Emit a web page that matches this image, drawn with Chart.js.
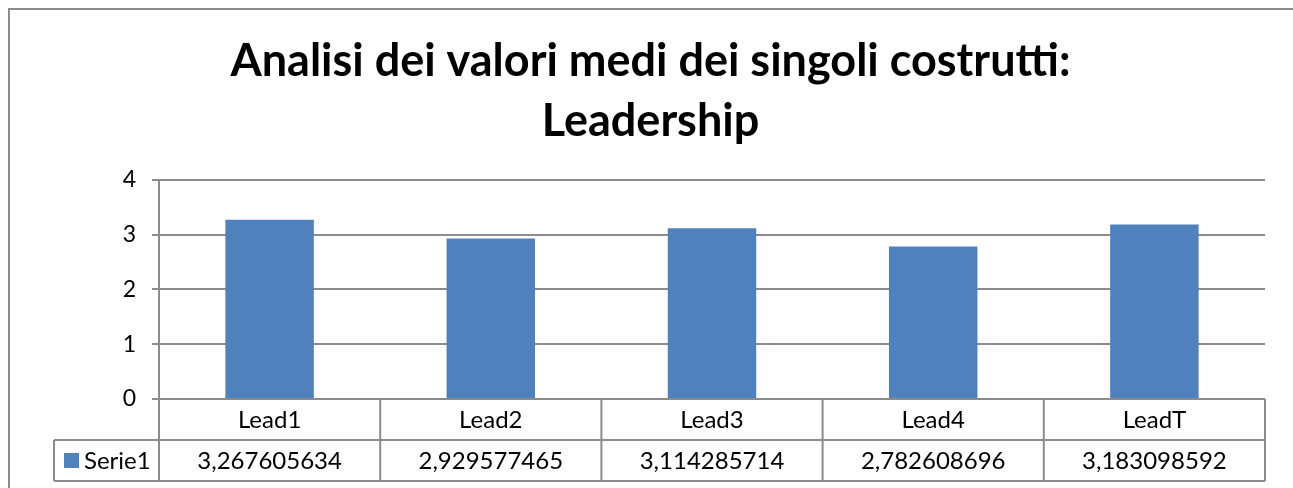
<!DOCTYPE html>
<html>
<head>
<meta charset="utf-8">
<script src="https://cdn.jsdelivr.net/npm/chart.js@4/dist/chart.umd.min.js"></script>
<style>
  html, body { margin: 0; padding: 0; background: #fff; }
  #wrap { position: relative; width: 1293px; height: 488px; }
</style>
</head>
<body>
<div id="wrap"><canvas id="myChart" width="1293" height="488"></canvas></div>
<script>
// dati
const categories = ['Lead1', 'Lead2', 'Lead3', 'Lead4', 'LeadT'];
const seriesName = 'Serie1';
const values = [3.267605634, 2.929577465, 3.114285714, 2.782608696, 3.183098592];
const valueLabels = ['3,267605634', '2,929577465', '3,114285714', '2,782608696', '3,183098592'];
const titleLines = ['Analisi dei valori medi dei singoli costrutti:', 'Leadership'];

const barColor = '#4F81BD';
const lineColor = '#8c8c8c';
const fontFamily = 'Lato, "Open Sans", sans-serif';

// tabella dati sotto l'asse, disegnata dalle posizioni della scala x
const dataTable = {
    id: 'dataTable',
    beforeDraw(chart) {
        const ctx = chart.ctx;
        ctx.save();
        ctx.strokeStyle = lineColor;
        ctx.lineWidth = 2;
        ctx.strokeRect(9, 9, 1300, 500);
        ctx.restore();
    },
    afterDraw(chart) {
        const ctx = chart.ctx;
        const x = chart.scales.x;
        const area = chart.chartArea;
        const rowH = 41;
        const top = area.bottom;
        const mid = top + rowH;
        const bottom = mid + rowH;
        const half = (x.getPixelForValue(1) - x.getPixelForValue(0)) / 2;
        const legendLeft = 54;

        ctx.save();
        ctx.strokeStyle = lineColor;
        ctx.lineWidth = 2;
        ctx.beginPath();
        // righe orizzontali
        ctx.moveTo(area.left, top); ctx.lineTo(area.right, top);
        ctx.moveTo(legendLeft, mid); ctx.lineTo(area.right, mid);
        ctx.moveTo(legendLeft, bottom); ctx.lineTo(area.right, bottom);
        // righe verticali
        ctx.moveTo(legendLeft, mid); ctx.lineTo(legendLeft, bottom);
        categories.forEach((c, i) => {
            const xl = x.getPixelForValue(i) - half;
            ctx.moveTo(xl, top); ctx.lineTo(xl, bottom);
        });
        ctx.moveTo(area.right, top); ctx.lineTo(area.right, bottom);
        ctx.stroke();

        ctx.fillStyle = '#000';
        ctx.font = '24px ' + fontFamily;
        ctx.textAlign = 'center';
        ctx.textBaseline = 'middle';
        categories.forEach((c, i) => {
            const cx = x.getPixelForValue(i);
            ctx.fillText(c, cx, top + rowH / 2 + 1);
            ctx.fillText(valueLabels[i], cx, mid + rowH / 2 + 1);
        });

        // chiave legenda
        ctx.fillStyle = barColor;
        ctx.fillRect(64, mid + 13, 15, 15);
        ctx.fillStyle = '#000';
        ctx.textAlign = 'left';
        ctx.fillText(seriesName, 84, mid + rowH / 2 + 1);
        ctx.restore();
    }
};

const ctx = document.getElementById('myChart').getContext('2d');
const myChart = new Chart(ctx, {
    type: 'bar',
    data: {
        labels: categories,
        datasets: [{
            label: seriesName,
            data: values,
            backgroundColor: barColor,
            borderWidth: 0,
            barPercentage: 0.4,
            categoryPercentage: 1.0
        }]
    },
    options: {
        responsive: false,
        animation: false,
        devicePixelRatio: 1,
        layout: { padding: { left: 36, right: 28, top: 0, bottom: 89 } },
        plugins: {
            legend: { display: false },
            tooltip: { enabled: false },
            title: {
                display: true,
                text: titleLines,
                color: '#000',
                font: { family: fontFamily, size: 45, weight: 'bold', lineHeight: 1.33 },
                padding: { top: 32, bottom: 28 }
            }
        },
        scales: {
            x: {
                ticks: { display: false },
                grid: { display: false },
                border: { display: false },
                afterFit(scale) { scale.height = 0; }
            },
            y: {
                min: 0,
                max: 4,
                ticks: { stepSize: 1, color: '#000', font: { family: fontFamily, size: 23 }, padding: 16 },
                grid: { color: lineColor, lineWidth: 2, tickLength: 7 },
                border: { color: lineColor, width: 2 },
                afterFit(scale) { scale.width = 123; }
            }
        }
    },
    plugins: [dataTable]
});
</script>
</body>
</html>
